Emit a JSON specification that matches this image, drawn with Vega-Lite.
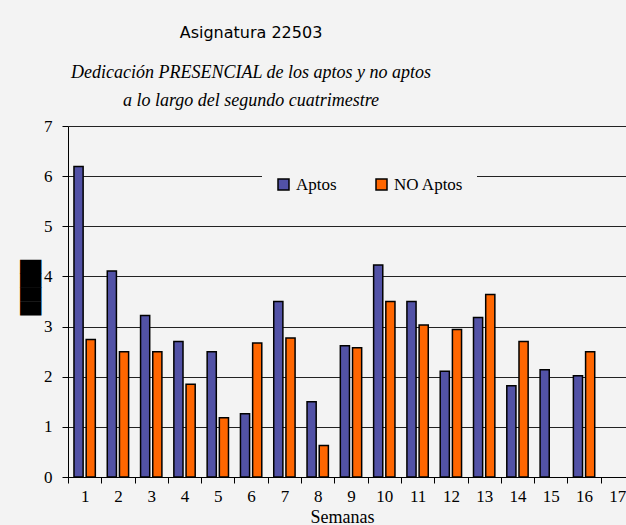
{
  "$schema": "https://vega.github.io/schema/vega-lite/v6.json",
  "autosize": {"type": "none"},
  "width": 558,
  "height": 351,
  "padding": {"left": 68, "top": 126, "right": 0, "bottom": 48},
  "background": "#f3f3f3",
  "title": {
    "text": "Asignatura 22503",
    "subtitle": ["Dedicación PRESENCIAL de los aptos y no aptos", "a lo largo del segundo cuatrimestre"],
    "anchor": "middle",
    "frame": "group",
    "dx": -96,
    "offset": 7,
    "font": "DejaVu Sans",
    "fontSize": 16,
    "fontWeight": "normal",
    "color": "#000000",
    "subtitleFont": "Liberation Serif",
    "subtitleFontStyle": "italic",
    "subtitleFontSize": 18,
    "subtitleColor": "#000000",
    "subtitleLineHeight": 28,
    "subtitlePadding": 23
  },
  "data": {
    "values": [
      {"semana": 1, "grupo": "Aptos", "horas": 6.19},
      {"semana": 1, "grupo": "NO Aptos", "horas": 2.74},
      {"semana": 2, "grupo": "Aptos", "horas": 4.11},
      {"semana": 2, "grupo": "NO Aptos", "horas": 2.5},
      {"semana": 3, "grupo": "Aptos", "horas": 3.22},
      {"semana": 3, "grupo": "NO Aptos", "horas": 2.5},
      {"semana": 4, "grupo": "Aptos", "horas": 2.7},
      {"semana": 4, "grupo": "NO Aptos", "horas": 1.85},
      {"semana": 5, "grupo": "Aptos", "horas": 2.5},
      {"semana": 5, "grupo": "NO Aptos", "horas": 1.18},
      {"semana": 6, "grupo": "Aptos", "horas": 1.26},
      {"semana": 6, "grupo": "NO Aptos", "horas": 2.67},
      {"semana": 7, "grupo": "Aptos", "horas": 3.5},
      {"semana": 7, "grupo": "NO Aptos", "horas": 2.77},
      {"semana": 8, "grupo": "Aptos", "horas": 1.5},
      {"semana": 8, "grupo": "NO Aptos", "horas": 0.63},
      {"semana": 9, "grupo": "Aptos", "horas": 2.62},
      {"semana": 9, "grupo": "NO Aptos", "horas": 2.58},
      {"semana": 10, "grupo": "Aptos", "horas": 4.23},
      {"semana": 10, "grupo": "NO Aptos", "horas": 3.5},
      {"semana": 11, "grupo": "Aptos", "horas": 3.5},
      {"semana": 11, "grupo": "NO Aptos", "horas": 3.03},
      {"semana": 12, "grupo": "Aptos", "horas": 2.11},
      {"semana": 12, "grupo": "NO Aptos", "horas": 2.94},
      {"semana": 13, "grupo": "Aptos", "horas": 3.18},
      {"semana": 13, "grupo": "NO Aptos", "horas": 3.64},
      {"semana": 14, "grupo": "Aptos", "horas": 1.82},
      {"semana": 14, "grupo": "NO Aptos", "horas": 2.7},
      {"semana": 15, "grupo": "Aptos", "horas": 2.14},
      {"semana": 16, "grupo": "Aptos", "horas": 2.02},
      {"semana": 16, "grupo": "NO Aptos", "horas": 2.5}
    ]
  },
  "mark": {"type": "bar", "stroke": "#000000", "strokeWidth": 1.5},
  "encoding": {
    "x": {
      "field": "semana",
      "type": "ordinal",
      "scale": {
        "domain": [1, 2, 3, 4, 5, 6, 7, 8, 9, 10, 11, 12, 13, 14, 15, 16, 17],
        "range": [0, 566],
        "paddingInner": 0,
        "paddingOuter": 0
      },
      "axis": {
        "title": "Semanas",
        "titleFont": "Liberation Serif",
        "titleFontSize": 18,
        "titleFontWeight": "normal",
        "titleColor": "#000000",
        "titleX": 274,
        "titleY": 45,
        "titleBaseline": "alphabetic",
        "titleAlign": "center",
        "labelAngle": 0,
        "labelFont": "Liberation Serif",
        "labelFontSize": 17,
        "labelColor": "#000000",
        "labelPadding": 5,
        "tickBand": "extent",
        "tickSize": 6,
        "tickColor": "#000000",
        "domainColor": "#000000",
        "grid": false
      }
    },
    "xOffset": {
      "field": "grupo",
      "type": "nominal",
      "scale": {"domain": ["Aptos", "NO Aptos"], "paddingInner": 0.25, "paddingOuter": 0.49}
    },
    "y": {
      "field": "horas",
      "type": "quantitative",
      "scale": {"domain": [0, 7], "nice": false},
      "axis": {
        "values": [0, 1, 2, 3, 4, 5, 6, 7],
        "title": "████",
        "titleFont": "DejaVu Sans",
        "titleFontSize": 18,
        "titleFontWeight": "normal",
        "titleColor": "#000000",
        "titleX": -37,
        "titleY": 161,
        "titleAngle": 270,
        "titleAlign": "center",
        "titleBaseline": "middle",
        "labelFont": "Liberation Serif",
        "labelFontSize": 17,
        "labelColor": "#000000",
        "labelPadding": 10,
        "tickSize": 6,
        "tickColor": "#000000",
        "domainColor": "#000000",
        "grid": true,
        "gridColor": "#222222",
        "gridWidth": 1
      }
    },
    "color": {
      "field": "grupo",
      "type": "nominal",
      "scale": {"domain": ["Aptos", "NO Aptos"], "range": ["#5252A6", "#FF6600"]},
      "legend": {
        "title": null,
        "orient": "none",
        "direction": "horizontal",
        "legendX": 194,
        "legendY": 37,
        "fillColor": "#f3f3f3",
        "padding": 13,
        "columnPadding": 36,
        "symbolType": "square",
        "symbolSize": 121,
        "symbolStrokeColor": "#000000",
        "symbolStrokeWidth": 1.5,
        "symbolOpacity": 1,
        "labelFont": "Liberation Serif",
        "labelFontSize": 17,
        "labelColor": "#000000",
        "labelOffset": 4
      }
    }
  },
  "config": {
    "view": {"stroke": null},
    "axis": {"domainWidth": 1, "tickWidth": 1}
  }
}
